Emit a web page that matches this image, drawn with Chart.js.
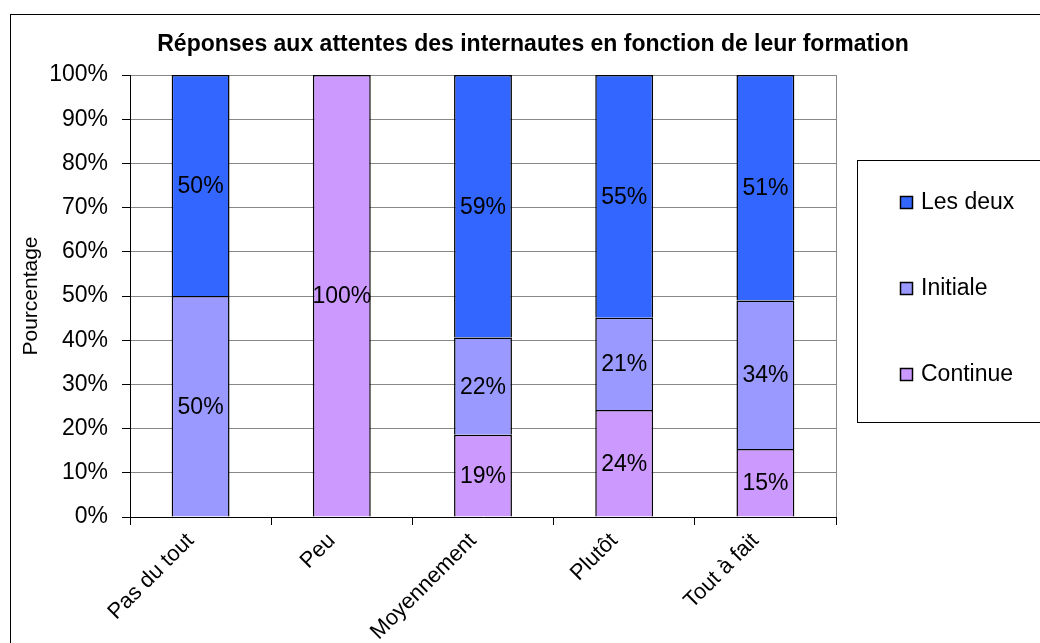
<!DOCTYPE html>
<html>
<head>
<meta charset="utf-8">
<script src="https://cdn.jsdelivr.net/npm/chart.js@4/dist/chart.umd.min.js"></script>
<style>
  html, body { margin: 0; padding: 0; background: #fff; }
  #wrap { width: 1040px; height: 643px; }
</style>
</head>
<body>
<div id="wrap"><canvas id="chart"></canvas></div>
<script>
const categories = ['Pas du tout', 'Peu', 'Moyennement', 'Plutôt', 'Tout à fait'];
const continueValues = [null, 100, 18.6, 24.2, 15.4];
const initialeValues = [50, null, 22.0, 20.9, 33.6];
const lesDeuxValues = [50, null, 59.4, 54.9, 51.0];
const seriesNames = ['Continue', 'Initiale', 'Les deux'];
const seriesColors = ['#cc99ff', '#9999ff', '#3366ff'];

const FONT = "'Liberation Sans', Arial, sans-serif";

// fond blanc, cadre, bord droit, étiquettes et légende
const framePlugin = {
  id: 'frame',
  beforeDraw(chart) {
    const { ctx, width, height } = chart;
    ctx.save();
    ctx.fillStyle = '#fff';
    ctx.fillRect(0, 0, width, height);
    ctx.strokeStyle = '#000';
    ctx.lineWidth = 1;
    ctx.strokeRect(10.5, 14.5, width + 10, height + 10);
    ctx.restore();
  },
  afterDatasetsDraw(chart) {
    const { ctx, chartArea } = chart;
    ctx.save();
    ctx.strokeStyle = '#888';
    ctx.lineWidth = 1;
    ctx.beginPath();
    ctx.moveTo(Math.round(chartArea.right) + 0.5, chartArea.top);
    ctx.lineTo(Math.round(chartArea.right) + 0.5, chartArea.bottom);
    ctx.stroke();

    ctx.fillStyle = '#000';
    ctx.font = `23px ${FONT}`;
    ctx.textAlign = 'center';
    ctx.textBaseline = 'middle';
    chart.data.datasets.forEach((ds, i) => {
      chart.getDatasetMeta(i).data.forEach((bar, j) => {
        const v = ds.data[j];
        if (v == null || v === 0) return;
        const { x, y, base } = bar.getProps(['x', 'y', 'base'], true);
        ctx.fillText(Math.round(v) + '%', x, (y + base) / 2 + 1);
      });
    });
    ctx.restore();
  },
  afterDraw(chart) {
    const { ctx, width } = chart;
    ctx.save();
    ctx.strokeStyle = '#000';
    ctx.lineWidth = 1;
    ctx.strokeRect(857.5, 160.5, width, 262);
    ctx.font = `23px ${FONT}`;
    ctx.textAlign = 'left';
    ctx.textBaseline = 'middle';
    const items = chart.data.datasets.slice().reverse();
    items.forEach((ds, k) => {
      const cy = 202 + k * 86;
      ctx.fillStyle = ds.backgroundColor;
      ctx.fillRect(900, cy - 6, 13, 13);
      ctx.lineWidth = 1.5;
      ctx.strokeRect(900.5, cy - 5.5, 12, 12);
      ctx.fillStyle = '#000';
      ctx.fillText(ds.label, 921, cy + 1);
    });
    ctx.restore();
  }
};

const datasets = [continueValues, initialeValues, lesDeuxValues].map((vals, i) => ({
  label: seriesNames[i],
  data: vals,
  backgroundColor: seriesColors[i],
  borderColor: '#000',
  borderWidth: 1.5,
  borderSkipped: 'start',
  categoryPercentage: 1,
  barPercentage: 0.41,
}));

new Chart(document.getElementById('chart'), {
  type: 'bar',
  data: { labels: categories, datasets },
  options: {
    responsive: true,
    maintainAspectRatio: false,
    animation: false,
    layout: { padding: { left: 26, top: 0, right: 0, bottom: 0 } },
    plugins: {
      legend: { display: false },
      tooltip: { enabled: false },
      title: {
        display: true,
        text: 'Réponses aux attentes des internautes en fonction de leur formation',
        color: '#000',
        font: { family: FONT, size: 23, weight: 'bold' },
        padding: { top: 31, bottom: 16.4 },
      },
    },
    scales: {
      x: {
        stacked: true,
        grid: { offset: true, drawOnChartArea: false, drawTicks: true, tickLength: 8, tickColor: '#000' },
        border: { color: '#000', width: 1 },
        ticks: {
          color: '#000',
          font: { family: FONT, size: 22 },
          maxRotation: 45,
          minRotation: 45,
          padding: 3,
          labelOffset: -10,
        },
        afterFit(scale) { scale.height = 126; },
      },
      y: {
        stacked: true,
        min: 0,
        max: 100,
        grid: { color: '#888', tickLength: 8, tickColor: '#000' },
        border: { color: '#000', width: 1 },
        ticks: {
          stepSize: 10,
          color: '#000',
          padding: 14,
          font: { family: FONT, size: 23 },
          callback: v => v + '%',
        },
        title: {
          display: true,
          text: 'Pourcentage',
          color: '#000',
          font: { family: FONT, size: 21, lineHeight: 0.5 },
          padding: { top: 0, bottom: 0 },
        },
        afterFit(scale) { scale.width = 104; },
      },
      // axe vide à droite : réserve la place de la légende
      right: {
        position: 'right',
        display: true,
        grid: { display: false },
        border: { display: false },
        ticks: { display: false },
        afterFit(scale) { scale.width = 204; },
      },
    },
  },
  plugins: [framePlugin],
});
</script>
</body>
</html>
